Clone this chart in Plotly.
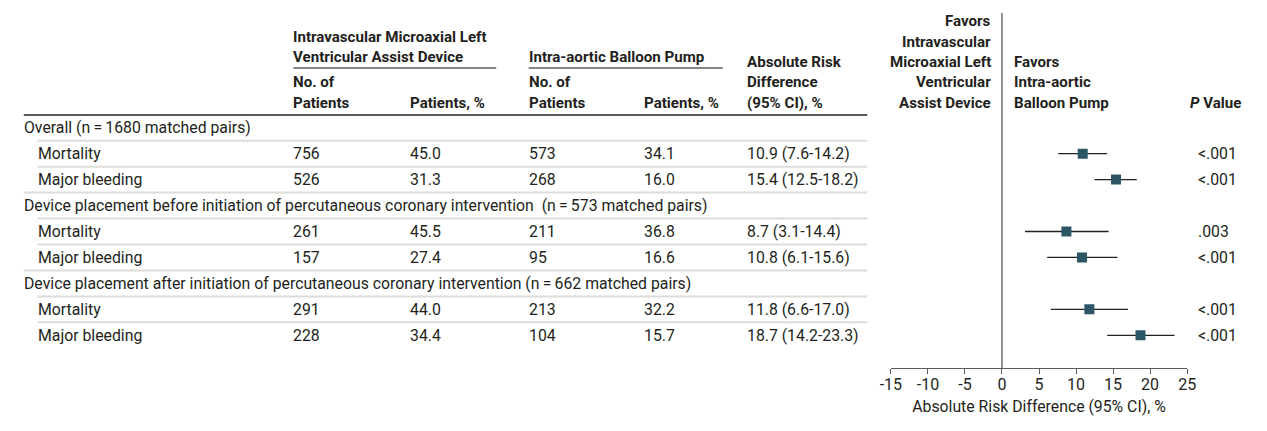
import plotly.graph_objects as go

# ---- data ----
row_labels = [
    "Overall (n\u2009=\u20091680 matched pairs)",
    "Mortality",
    "Major bleeding",
    "Device placement before initiation of percutaneous coronary intervention  (n\u2009=\u2009573 matched pairs)",
    "Mortality",
    "Major bleeding",
    "Device placement after initiation of percutaneous coronary intervention (n\u2009=\u2009662 matched pairs)",
    "Mortality",
    "Major bleeding",
]
is_group = [True, False, False, True, False, False, True, False, False]
impella_n = ["", "756", "526", "", "261", "157", "", "291", "228"]
impella_pct = ["", "45.0", "31.3", "", "45.5", "27.4", "", "44.0", "34.4"]
iabp_n = ["", "573", "268", "", "211", "95", "", "213", "104"]
iabp_pct = ["", "34.1", "16.0", "", "36.8", "16.6", "", "32.2", "15.7"]
diff = [None, 10.9, 15.4, None, 8.7, 10.8, None, 11.8, 18.7]
ci_lo = [None, 7.6, 12.5, None, 3.1, 6.1, None, 6.6, 14.2]
ci_hi = [None, 14.2, 18.2, None, 14.4, 15.6, None, 17.0, 23.3]
p_values = ["", "<.001", "<.001", "", ".003", "<.001", "", "<.001", "<.001"]
tick_vals = [-15, -10, -5, 0, 5, 10, 15, 20, 25]
tick_text = ["-15", "-10", "-5", "0", "5", "10", "15", "20", "25"]

W, H = 1267, 431
FONT = "Roboto"
TXT = "#231f20"
FS = 15.8
HFS = 15.1

ROW0, ROWH = 127.7, 25.95
y_top = (0 - ROW0) / ROWH
y_bot = (H - ROW0) / ROWH

def px(x):
    return x / W

def py(y):
    return 1 - y / H

fig = go.Figure()

idx = [i for i, d in enumerate(diff) if d is not None]
fig.add_trace(go.Scatter(
    x=[diff[i] for i in idx],
    y=[i for i in idx],
    mode="markers",
    marker=dict(symbol="square", size=10, color="#2c5665"),
    error_x=dict(type="data", symmetric=False,
                 array=[ci_hi[i] - diff[i] for i in idx],
                 arrayminus=[diff[i] - ci_lo[i] for i in idx],
                 width=0, thickness=1.3, color="#222"),
    showlegend=False, hoverinfo="skip",
))

ann = []
shapes = []

def A(x, y, text, xanchor="left", bold=False, yref="paper", size=None):
    t = text
    if bold:
        t = "<b>" + t + "</b>"
    if size is None:
        size = HFS if bold else FS
    ann.append(dict(x=x, y=y, xref="paper", yref=yref, text=t, showarrow=False,
                    xanchor=xanchor, yanchor="middle", borderpad=0, borderwidth=0,
                    font=dict(family=FONT, size=size, color=TXT)))

A(px(287), py(37), "Intravascular Microaxial Left", bold=True)
A(px(287), py(57), "Ventricular Assist Device", bold=True)
A(px(526), py(57), "Intra-aortic Balloon Pump", bold=True)
for x0 in (287, 526):
    A(px(x0), py(82), "No. of", bold=True)
    A(px(x0), py(103), "Patients", bold=True)
A(px(405), py(103), "Patients, %", bold=True)
A(px(643), py(103), "Patients, %", bold=True)
A(px(748), py(62), "Absolute Risk", bold=True)
A(px(748), py(82), "Difference", bold=True)
A(px(748), py(103), "(95% CI), %", bold=True)
for yy, t in zip([21, 41.5, 62, 82, 102.5],
                 ["Favors", "Intravascular", "Microaxial Left", "Ventricular", "Assist Device"]):
    A(px(996), py(yy), t, xanchor="right", bold=True)
for yy, t in zip([62, 82, 102.5], ["Favors", "Intra-aortic", "Balloon Pump"]):
    A(px(1019), py(yy), t, bold=True)
A(px(1198), py(102.5), "<i>P</i> Value", bold=True)

shapes.append(dict(type="line", xref="paper", yref="paper", x0=px(287), x1=px(493),
                   y0=py(68), y1=py(68), line=dict(color="#5a5a5a", width=1.3)))
shapes.append(dict(type="line", xref="paper", yref="paper", x0=px(526), x1=px(723),
                   y0=py(68), y1=py(68), line=dict(color="#5a5a5a", width=1.3)))
shapes.append(dict(type="line", xref="paper", yref="paper", x0=px(13), x1=px(870),
                   y0=py(115), y1=py(115), line=dict(color="#5a5a5a", width=2)))

for i, lab in enumerate(row_labels):
    if is_group[i]:
        A(px(13), i, lab, yref="y")
    else:
        A(px(27), i, lab, yref="y")
        A(px(287), i, impella_n[i], yref="y")
        A(px(405), i, impella_pct[i], yref="y")
        A(px(526), i, iabp_n[i], yref="y")
        A(px(643), i, iabp_pct[i], yref="y")
        A(px(748), i, f"{diff[i]:.1f} ({ci_lo[i]:.1f}-{ci_hi[i]:.1f})", yref="y")
        A(px(1206), i, p_values[i], yref="y")
    if i < len(row_labels) - 1:
        x0 = 13 if is_group[i + 1] else 27
        shapes.append(dict(type="line", xref="paper", yref="y", x0=px(x0), x1=px(870),
                           y0=i + 0.5, y1=i + 0.5, line=dict(color="#dcdcd8", width=2)))

shapes.append(dict(type="line", xref="x", yref="paper", x0=0, x1=0,
                   y0=py(368), y1=py(13), line=dict(color="#5a5a5a", width=1.3)))

fig.update_layout(
    width=W, height=H, margin=dict(l=0, r=0, t=0, b=0),
    paper_bgcolor="white", plot_bgcolor="rgba(0,0,0,0)",
    annotations=ann, shapes=shapes,
    xaxis=dict(domain=[px(894), px(1195)], range=[-15, 25], anchor="free", position=py(368),
               showgrid=False, zeroline=False, showline=True, linecolor="#5a5a5a", linewidth=1.3,
               ticks="outside", ticklen=5, tickcolor="#5a5a5a", tickwidth=1.3,
               tickvals=tick_vals, ticktext=tick_text, ticklabelstandoff=-3,
               tickfont=dict(family=FONT, size=16, color=TXT),
               title=dict(text="Absolute Risk Difference (95% CI), %", standoff=7,
                          font=dict(family=FONT, size=FS, color=TXT))),
    yaxis=dict(domain=[0, 1], range=[y_bot, y_top], visible=False, showgrid=False),
)

fig.write_html("out.html", config={"displayModeBar": False},
               post_script="document.body.style.margin='0';document.body.style.overflow='hidden';")
